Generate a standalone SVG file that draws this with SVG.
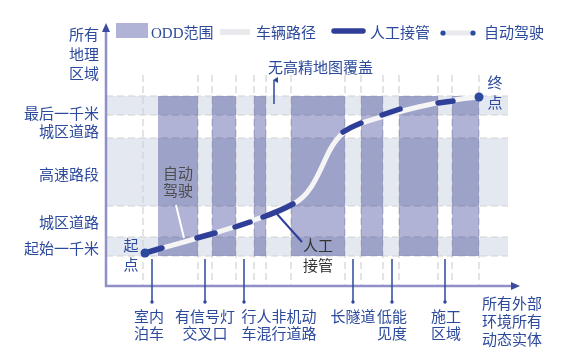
<svg xmlns="http://www.w3.org/2000/svg" width="579" height="359" viewBox="0 0 579 359">
<style>
text{font-family:"Noto Sans CJK SC","Noto Sans",sans-serif;font-size:15px;fill:#2c4a9c}
.lat{font-family:"Liberation Serif","Noto Sans CJK SC",serif}
.band{fill:#e4e8f0}
.grid{stroke:#d2d2d2;stroke-width:1.2;stroke-dasharray:7,4;fill:none}
.odd{fill:#b0b2d6;mix-blend-mode:multiply}
.take{stroke:#2f3f98;stroke-width:5.5;stroke-linecap:round;fill:none}
.ptr{stroke:#2c4a9c;stroke-width:1.5;fill:none}
.gray{fill:#4d4d4d}
.dk{fill:#333}
</style>
<defs>
<marker id="dot" markerWidth="4" markerHeight="4" refX="2" refY="2" markerUnits="userSpaceOnUse"><circle cx="2" cy="2" r="1.7" fill="#2c4a9c"/></marker>
<marker id="up" markerWidth="6" markerHeight="6" refX="3" refY="1" orient="auto-start-reverse" markerUnits="userSpaceOnUse"><path d="M0,5 L3,0 L6,5 Z" fill="#2c4a9c"/></marker>
</defs>

<g id="bands">
<rect class="band" x="106" y="96" width="402" height="19"/>
<rect class="band" x="106" y="138" width="402" height="68"/>
<rect class="band" x="106" y="237" width="402" height="19"/>
</g>
<g id="grid">
<path class="grid" d="M106,96H508M106,115H508M106,138H508M106,206H508M106,237H508M106,256H508"/>
<path class="grid" d="M143,75V286M198,75V286M212,75V286M236,75V286M254,75V286M266,75V286M291,75V286M345,75V286M361,75V286M383,75V286M399,75V286M438,75V286M452,75V286M479,75V286"/>
</g>
<g id="odd">
<rect class="odd" x="158" y="96" width="40" height="160"/>
<rect class="odd" x="212" y="96" width="24" height="160"/>
<rect class="odd" x="254" y="96" width="12" height="160"/>
<rect class="odd" x="291" y="96" width="54" height="160"/>
<rect class="odd" x="361" y="96" width="22" height="160"/>
<rect class="odd" x="399" y="96" width="39" height="160"/>
<rect class="odd" x="452" y="96" width="27" height="160"/>
</g>

<g id="axes">
<path d="M106,28V286H516" stroke="#8e90c6" stroke-width="2.5" fill="none"/>
<path d="M102,32L106,23L110,32Z" fill="#3b4c9e"/>
<path d="M511,282L520,286L511,290Z" fill="#3b4c9e"/>
</g>

<g id="path">
<path d="M145,253 C190,240 250,225 293,204 C308,197 316,180 325,160 C334,139 344,128 365,122 C385,116 430,101 479,97" stroke="#f5f5f5" stroke-width="5" fill="none" stroke-linecap="round"/>
</g>
<g id="connectors">
<path class="take" d="M145,253L162,248"/>
<path class="take" d="M197,238L215,233"/>
<path class="take" d="M235,227L250,222"/>
<path class="take" d="M263,217Q280,211 293,204"/>
<path class="take" d="M343,132Q351,127 361,123"/>
<path class="take" d="M382,115L400,109"/>
<path class="take" d="M438,103L453,101"/>
<path d="M176,205L184,238" stroke="#ffffff" stroke-width="2" fill="none"/>
<path d="M277,214L302,242" stroke="#2f3f98" stroke-width="2" fill="none"/>
<path class="ptr" d="M274,104V80" marker-end="url(#up)"/>
<path class="ptr" d="M152,259V302" marker-end="url(#dot)"/>
<path class="ptr" d="M205,259V302" marker-end="url(#dot)"/>
<path class="ptr" d="M244,259V302" marker-end="url(#dot)"/>
<path class="ptr" d="M353,259V302" marker-end="url(#dot)"/>
<path class="ptr" d="M392,259V302" marker-end="url(#dot)"/>
<path class="ptr" d="M445,259V302" marker-end="url(#dot)"/>
</g>
<g id="start"><circle cx="145" cy="253" r="4.5" fill="#2c4a9e"/><text x="131" y="250.5" text-anchor="middle">起</text><text x="131" y="269.5" text-anchor="middle">点</text></g>
<g id="end"><circle cx="479" cy="97" r="4.5" fill="#2c4a9e"/><text x="495" y="87.5" text-anchor="middle">终</text><text x="495" y="107.5" text-anchor="middle">点</text></g>

<g id="ylabels" text-anchor="end">
<text x="99" y="40">所有</text>
<text x="99" y="59.5">地理</text>
<text x="99" y="78.5">区域</text>
<text x="99" y="118.5">最后一千米</text>
<text x="99" y="136.5">城区道路</text>
<text x="99" y="179.5">高速路段</text>
<text x="99" y="227.5">城区道路</text>
<text x="99" y="253.5">起始一千米</text>
</g>

<g id="legend">
<rect x="116" y="23" width="32" height="15" fill="#b0b2d6"/>
<text x="151" y="38"><tspan class="lat">ODD</tspan>范围</text>
<path d="M220,32H250" stroke="#e8eaee" stroke-width="6"/>
<text x="256" y="38">车辆路径</text>
<path class="take" d="M334,31H363"/>
<text x="370" y="38">人工接管</text>
<path d="M443,33H472" stroke="#e8eaee" stroke-width="5"/>
<circle cx="443" cy="33" r="2.6" fill="#2c4a9e"/>
<circle cx="473" cy="33" r="2.6" fill="#2c4a9e"/>
<text x="484" y="38">自动驾驶</text>
</g>

<g id="nohdmap"><text x="268" y="72.5">无高精地图覆盖</text></g>
<g id="auto-label"><text class="gray" x="178" y="178.5" text-anchor="middle">自动</text><text class="gray" x="178" y="195.5" text-anchor="middle">驾驶</text></g>
<g id="manual-label"><text class="dk" x="318" y="250.5" text-anchor="middle">人工</text><text class="dk" x="318" y="270.5" text-anchor="middle">接管</text></g>

<g id="xlabels" text-anchor="middle">
<text x="149" y="321.5">室内</text><text x="149" y="338.5">泊车</text>
<text x="205" y="321.5">有信号灯</text><text x="205" y="338.5">交叉口</text>
<text x="279" y="321.5">行人非机动</text><text x="279" y="338.5">车混行道路</text>
<text x="353" y="321.5">长隧道</text>
<text x="392" y="321.5">低能</text><text x="392" y="338.5">见度</text>
<text x="446" y="321.5">施工</text><text x="446" y="338.5">区域</text>
<text x="512" y="308.5">所有外部</text><text x="512" y="326.5">环境所有</text><text x="512" y="344.5">动态实体</text>
</g>
</svg>
